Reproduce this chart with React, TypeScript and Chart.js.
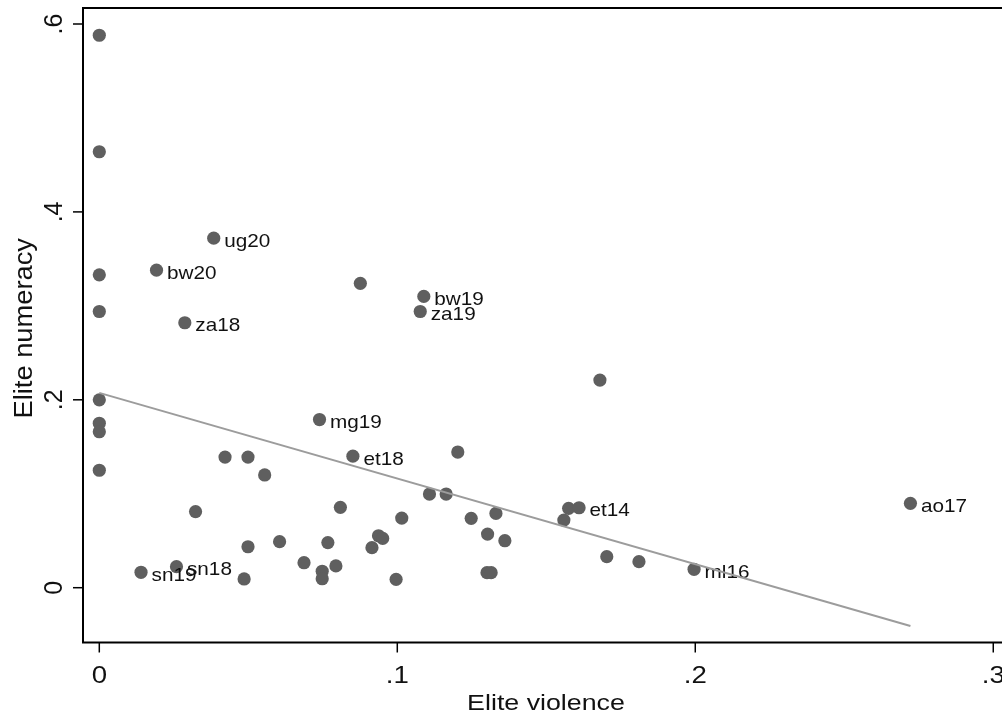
import { useEffect, useRef } from 'react';
import { Chart, registerables } from 'chart.js';

Chart.register(...registerables);

// Country-year codes (blank = unlabelled observation)
const codes = [
  '', '', '', '', '', '', '', '',
  'ug20', 'bw20', 'za18', 'sn19', 'sn18',
  '', '', '', '', '', '', '', '', '', '', '', '',
  'mg19', '', 'bw19', 'za19', '', 'et18', '', '', '', '', '', '', '', '',
  'et14', '', '', '', '', '', '', '', '', '', '', '',
  'ml16', 'ao17',
];

// Elite violence (x)
const violence = [
  0, 0, 0, 0, 0, 0, 0, 0,
  0.0384, 0.0192, 0.0287, 0.014, 0.0259,
  0.0422, 0.0499, 0.0555, 0.0323, 0.0605, 0.0499, 0.0767, 0.0687, 0.0748, 0.0748, 0.0794, 0.0486,
  0.0739, 0.0876, 0.1089, 0.1077, 0.168, 0.0851, 0.1203, 0.1108, 0.1164, 0.0809, 0.1015, 0.1248, 0.1331, 0.1575,
  0.161, 0.1559, 0.1303, 0.1361, 0.0937, 0.0951, 0.0915, 0.0996, 0.1301, 0.1315, 0.1703, 0.1811,
  0.1996, 0.2722,
];

// Elite numeracy (y)
const numeracy = [
  0.588, 0.464, 0.333, 0.294, 0.2, 0.175, 0.166, 0.125,
  0.372, 0.338, 0.282, 0.0164, 0.0224,
  0.139, 0.139, 0.12, 0.081, 0.049, 0.0436, 0.048, 0.0266, 0.0175, 0.0095, 0.0232, 0.0093,
  0.179, 0.324, 0.31, 0.294, 0.221, 0.14, 0.1444, 0.0997, 0.0997, 0.0855, 0.0741, 0.0738, 0.0791, 0.0845,
  0.0851, 0.072, 0.0571, 0.05, 0.0553, 0.0525, 0.0426, 0.0089, 0.016, 0.016, 0.033, 0.0277,
  0.0196, 0.0898,
];

// Linear fit of numeracy on violence
const fitIntercept = 0.2074;
const fitSlope = -0.9115;

const xTickValues = [0, 0.1, 0.2, 0.3];
const yTickValues = [0, 0.2, 0.4, 0.6];
const xTitle = 'Elite violence';
const yTitle = 'Elite numeracy';

const FONT = '"Liberation Sans", Arial, Helvetica, sans-serif';

function fmtTick(v: number): string {
  return v === 0 ? '0' : v.toFixed(1).replace(/^0/, '');
}

function drawText(
  ctx: CanvasRenderingContext2D,
  text: string,
  x: number,
  y: number,
  size: number,
  stretch: number,
  align: CanvasTextAlign,
  rotated: boolean,
) {
  ctx.save();
  ctx.translate(x, y);
  if (rotated) ctx.rotate(-Math.PI / 2);
  ctx.scale(stretch, 1);
  ctx.font = `${size}px ${FONT}`;
  ctx.textAlign = align;
  ctx.textBaseline = 'alphabetic';
  ctx.fillStyle = '#111111';
  ctx.fillText(text, 0, 0);
  ctx.restore();
}

// Frame, tick marks, tick labels and axis titles
const axesPlugin = {
  id: 'stataAxes',
  afterDraw(chart: any) {
    const { ctx, chartArea, scales, width } = chart;
    const xs = scales.x;
    const ys = scales.y;
    const { left, top, bottom } = chartArea;
    ctx.save();
    ctx.strokeStyle = '#000000';
    ctx.lineWidth = 2;
    ctx.beginPath();
    ctx.moveTo(width, top);
    ctx.lineTo(left, top);
    ctx.lineTo(left, bottom);
    ctx.lineTo(width, bottom);
    ctx.stroke();

    ctx.lineWidth = 1.5;
    for (const t of ys.ticks) {
      const py = ys.getPixelForValue(t.value);
      ctx.beginPath();
      ctx.moveTo(left - 10, py);
      ctx.lineTo(left, py);
      ctx.stroke();
      drawText(ctx, fmtTick(t.value), left - 21, py, 25, 1.0, 'center', true);
    }
    for (const t of xs.ticks) {
      const px = xs.getPixelForValue(t.value);
      ctx.beginPath();
      ctx.moveTo(px, bottom);
      ctx.lineTo(px, bottom + 10);
      ctx.stroke();
      drawText(ctx, fmtTick(t.value), px, 683, 23, 1.2, 'center', false);
    }
    // the plot region runs slightly past the right edge of the canvas
    const cx = left + 463;
    const cy = (top + bottom) / 2;
    drawText(ctx, xTitle, cx, 709.5, 22.5, 1.19, 'center', false);
    drawText(ctx, yTitle, 31.5, cy + 3, 25.5, 1.07, 'center', true);
    ctx.restore();
  },
};

// Marker labels, painted with the scatter so the fit line sits above them
const labelPlugin = {
  id: 'markerLabels',
  afterDatasetDraw(chart: any, args: any) {
    if (args.index !== 1) return;
    const { ctx } = chart;
    const meta = chart.getDatasetMeta(1);
    meta.data.forEach((el: any, i: number) => {
      const label = codes[i];
      if (!label) return;
      drawText(ctx, label, el.x + 10.5, el.y + 8.5, 18.5, 1.12, 'left', false);
    });
  },
};

export default function App() {
  const canvasRef = useRef<HTMLCanvasElement | null>(null);

  useEffect(() => {
    const canvas = canvasRef.current;
    if (!canvas) return;
    const points = violence.map((v, i) => ({ x: v, y: numeracy[i] }));
    const xLo = Math.min(...violence);
    const xHi = Math.max(...violence);
    const fitLine = [
      { x: xLo, y: fitIntercept + fitSlope * xLo },
      { x: xHi, y: fitIntercept + fitSlope * xHi },
    ];

    const chart = new Chart(canvas, {
      type: 'scatter',
      data: {
        datasets: [
          {
            label: 'Fitted values',
            data: fitLine,
            showLine: true,
            borderColor: '#9c9c9c',
            borderWidth: 2,
            pointRadius: 0,
            fill: false,
          },
          {
            label: yTitle,
            data: points,
            backgroundColor: '#5f5f5f',
            borderWidth: 0,
            pointRadius: 6.6,
            pointHoverRadius: 6.6,
          },
        ],
      },
      options: {
        animation: false,
        responsive: false,
        events: [],
        layout: { autoPadding: false, padding: { left: 83, top: 8, right: 0, bottom: 72.5 } },
        plugins: {
          legend: { display: false },
          tooltip: { enabled: false },
        },
        scales: {
          x: {
            type: 'linear',
            display: false,
            min: -0.00547,
            max: 0.30293,
            afterBuildTicks: (scale: any) => {
              scale.ticks = xTickValues.map((value) => ({ value }));
            },
          },
          y: {
            type: 'linear',
            display: false,
            min: -0.05833,
            max: 0.61703,
            afterBuildTicks: (scale: any) => {
              scale.ticks = yTickValues.map((value) => ({ value }));
            },
          },
        },
      },
      plugins: [labelPlugin, axesPlugin],
    });

    return () => chart.destroy();
  }, []);

  return (
    <div style={{ position: 'fixed', left: 0, top: 0, width: 1002, height: 715, background: '#ffffff' }}>
      <canvas ref={canvasRef} width={1002} height={715} style={{ display: 'block' }} />
    </div>
  );
}
